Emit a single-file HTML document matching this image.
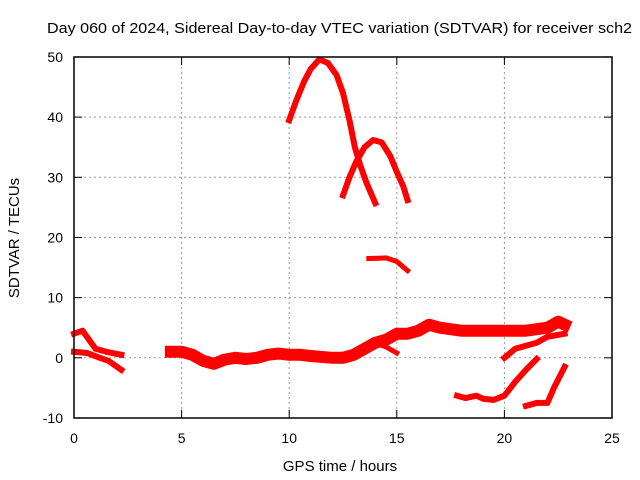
<!DOCTYPE html>
<html><head><meta charset="utf-8"><style>
body{margin:0;background:#fff}
svg{display:block;font-family:"Liberation Sans",sans-serif}
</style></head><body>
<svg id="c" width="640" height="480">
<text x="47" y="33" font-size="15" textLength="585" lengthAdjust="spacingAndGlyphs">Day 060 of 2024, Sidereal Day-to-day VTEC variation (SDTVAR) for receiver sch2</text>
<text x="340" y="471" font-size="15" text-anchor="middle">GPS time / hours</text>
<text transform="translate(19,238) rotate(-90)" font-size="15" text-anchor="middle">SDTVAR / TECUs</text>
<g id="grid"></g><g id="marks"></g>
<rect x="74" y="57" width="538" height="361" fill="none" stroke="#000" stroke-width="1.5"/>
<g id="ticks"></g>
</svg>
<script>
const xTicks=[0,5,10,15,20,25];
const yTicks=[-10,0,10,20,30,40,50];
const arcA=[[10.0,39.5],[10.3,42.5],[10.7,46],[11.0,48],[11.4,49.6],[11.8,49],[12.2,47],[12.5,44],[12.8,39.5],[13.05,35],[13.3,32],[13.6,29],[14.0,25.7]];
const arcB=[[12.5,27],[12.8,30],[13.1,32.5],[13.5,35],[13.9,36.2],[14.3,35.8],[14.7,33.5],[15.0,30.9],[15.3,28.5],[15.5,26.2]];
const seg16=[[13.7,16.5],[14.5,16.6],[15.0,16.0],[15.5,14.5]];
const blobA=[[0,4],[0.4,4.5],[0.7,3],[1.0,1.5],[1.5,1],[2.2,0.5]];
const blobB=[[0,1],[0.6,0.8],[1.2,0],[1.6,-0.5],[2.2,-2]];
const band=[[4.5,1],[5,1],[5.5,0.5],[6,-0.5],[6.5,-1],[7,-0.3],[7.5,0],[8,-0.2],[8.5,0],[9,0.5],[9.5,0.7],[10,0.5],[10.5,0.5],[11,0.3],[12,0],[12.5,0],[13,0.5],[13.5,1.5],[14,2.5],[14.5,3],[15,4],[15.5,4],[16,4.5],[16.5,5.5],[17,5],[18,4.5],[19,4.5],[20,4.5],[21,4.5],[22,5],[22.5,6],[22.8,5.5]];
const drop15=[[14,2.5],[14.5,1.8],[15,0.8]];
const rise20=[[20.0,0],[20.5,1.5],[21.5,2.5],[22,3.5],[22.8,4]];
const lowA=[[17.8,-6.3],[18.2,-6.7],[18.7,-6.3],[19,-6.8],[19.5,-7],[20,-6.3],[20.5,-4],[21,-2],[21.5,-0.2]];
const lowB=[[21,-8],[21.5,-7.5],[22,-7.5],[22.3,-5],[22.8,-1.5]];
const series=[arcA,arcB,seg16,blobA,blobB,band,drop15,rise20,lowA,lowB];
const widths=[6,6,5,6,6,12,5,6,6,6];
const X=h=>74+h*538/25, Y=v=>357.8-v*361/60;
const NS="http://www.w3.org/2000/svg";
const mk=(t,a,p)=>{const e=document.createElementNS(NS,t);for(const k in a)e.setAttribute(k,a[k]);p.appendChild(e);return e;};
const g=document.getElementById('grid'),tk=document.getElementById('ticks'),m=document.getElementById('marks');
xTicks.forEach(t=>{
 if(t>0&&t<25){const l=mk('line',{x1:X(t),x2:X(t),y1:57,y2:418,stroke:'#999','stroke-dasharray':'2,3'},g);
 
 }
 mk('line',{x1:X(t),x2:X(t),y1:418,y2:410,stroke:'#000'},tk);mk('line',{x1:X(t),x2:X(t),y1:57,y2:65,stroke:'#000'},tk);
 const s=mk('text',{x:X(t),y:443,'font-size':14,'text-anchor':'middle'},tk);s.textContent=t;
 
 
});
yTicks.forEach(t=>{
 if(t>-10&&t<50){const l=mk('line',{x1:74,x2:612,y1:Y(t),y2:Y(t),stroke:'#999','stroke-dasharray':'2,3'},g);
 
 }
 mk('line',{x1:74,x2:82,y1:Y(t),y2:Y(t),stroke:'#000'},tk);mk('line',{x1:612,x2:604,y1:Y(t),y2:Y(t),stroke:'#000'},tk);
 const s=mk('text',{x:63,y:Y(t)+5,'font-size':14,'text-anchor':'end'},tk);s.textContent=t;
 
 
});
series.forEach((s,i)=>{
 const p=mk('polyline',{points:s.map(d=>X(d[0])+','+Y(d[1])).join(' '),fill:'none',stroke:'#f00','stroke-width':widths[i],'stroke-linejoin':'round','stroke-linecap':'square'},m);
 
 
});
</script>
</body></html>
